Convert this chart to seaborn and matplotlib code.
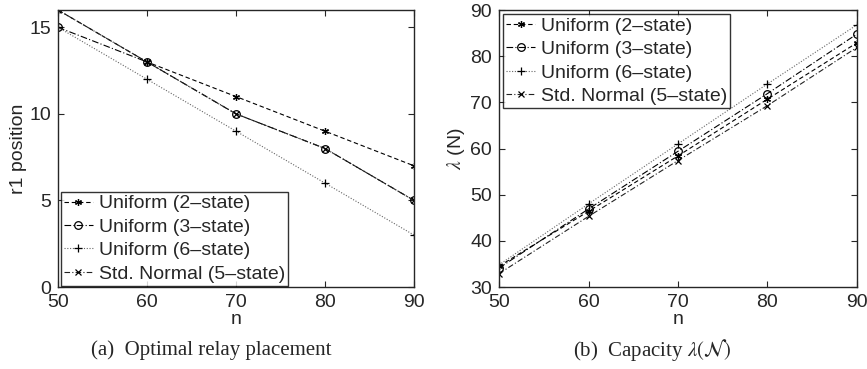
import numpy as np
import pandas as pd
import matplotlib
matplotlib.use("Agg")
import matplotlib.pyplot as plt
import seaborn as sns

n_values = [50, 60, 70, 80, 90]
series_names = ["Uniform (2\u2013state)", "Uniform (3\u2013state)",
                "Uniform (6\u2013state)", "Std. Normal (5\u2013state)"]

# (a) r1 position
r1_uniform2 = [16, 13, 11, 9, 7]
r1_uniform3 = [15, 13, 10, 8, 5]
r1_uniform6 = [15, 12, 9, 6, 3]
r1_normal5 = [16, 13, 10, 8, 5]

# (b) capacity
cap_uniform2 = [34.5, 46.4, 58.4, 70.7, 82.9]
cap_uniform3 = [34.1, 46.9, 59.4, 71.9, 84.8]
cap_uniform6 = [34.8, 48.0, 61.0, 74.0, 86.8]
cap_normal5 = [32.9, 45.3, 57.4, 69.3, 81.9]

markers = [(6, 2, 0), "o", "+", "x"]
msizes = [5, 5.5, 6, 4]
linestyles = [(0, (4, 2.5)), (0, (6, 2, 1, 2)), (0, (1, 1.5)), (0, (5, 2, 1, 2))]
colors = ["black", "black", "#666666", "#222222"]

sns.set_style("ticks")
plt.rcParams["font.family"] = ["Liberation Sans", "DejaVu Sans"]
plt.rcParams["mathtext.fontset"] = "stix"
plt.rcParams["xtick.direction"] = "in"
plt.rcParams["ytick.direction"] = "in"
plt.rcParams["xtick.top"] = True
plt.rcParams["ytick.right"] = True

fig = plt.figure(figsize=(8.67, 3.69), dpi=100)
W, H = 867, 369
ax1 = fig.add_axes([58 / W, (H - 287) / H, (414 - 58) / W, (287 - 10) / H])
ax2 = fig.add_axes([499 / W, (H - 287) / H, (857 - 499) / W, (287 - 10) / H])


def draw(ax, vals):
    df = pd.DataFrame({"n": n_values * 4,
                       "value": sum(vals, []),
                       "series": np.repeat(series_names, 5)})
    for i, name in enumerate(series_names):
        sub = df[df["series"] == name]
        sns.lineplot(data=sub, x="n", y="value", ax=ax, label=name,
                     color=colors[i], linestyle=linestyles[i], linewidth=0.8,
                     marker=markers[i], markersize=msizes[i],
                     markerfacecolor="none", markeredgecolor="black",
                     markeredgewidth=0.9)
    ax.set_xlim(50, 90)
    ax.set_xticks(n_values)
    for s in ax.spines.values():
        s.set_linewidth(1.0)
    ax.tick_params(labelsize=14, length=4, width=0.8, pad=5)


def style_legend(leg):
    leg.get_frame().set_edgecolor("black")
    leg.get_frame().set_linewidth(1.0)


leg_kw = dict(fontsize=14, frameon=True, fancybox=False, borderpad=0.15,
              labelspacing=0.3, handlelength=1.5, handletextpad=0.3,
              borderaxespad=0)

draw(ax1, [r1_uniform2, r1_uniform3, r1_uniform6, r1_normal5])
ax1.set_ylim(0, 16)
ax1.set_yticks([0, 5, 10, 15])
ax1.set_xlabel("n", fontsize=14, labelpad=0)
ax1.set_ylabel("r1 position", fontsize=14, labelpad=2)
style_legend(ax1.legend(loc="lower left", bbox_to_anchor=(0.008, 0.005), **leg_kw))

draw(ax2, [cap_uniform2, cap_uniform3, cap_uniform6, cap_normal5])
ax2.set_ylim(30, 90)
ax2.set_yticks(range(30, 91, 10))
ax2.set_xlabel("n", fontsize=14, labelpad=0)
ax2.set_ylabel(r"$\lambda$ (N)", fontsize=14, labelpad=2)
style_legend(ax2.legend(loc="upper left", bbox_to_anchor=(0.012, 0.985), **leg_kw))

fig.text(91 / W, 1 - 350 / H, "(a)  Optimal relay placement", fontsize=15,
         family="Liberation Serif", ha="left", va="center")
fig.text(573 / W, 1 - 350 / H, r"(b)  Capacity $\lambda(\mathcal{N})$", fontsize=15,
         family="Liberation Serif", ha="left", va="center")

fig.savefig("out.png", dpi=100)
